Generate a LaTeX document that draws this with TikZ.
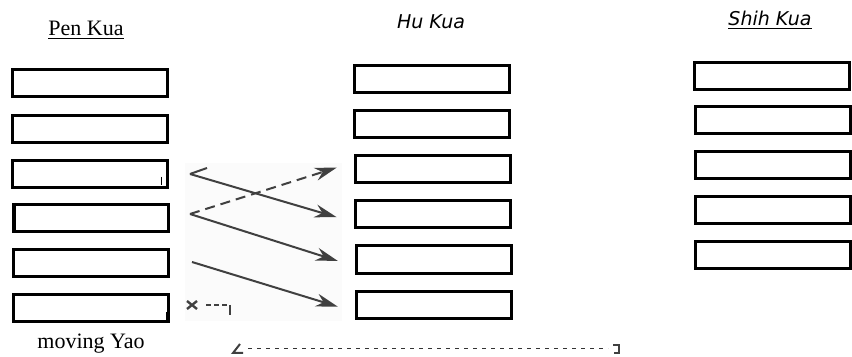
\documentclass[tikz,border=0pt]{standalone}
\usepackage{fontspec}
\setmainfont{Liberation Serif}
\newfontfamily\kuafont{DejaVu Sans}
\usetikzlibrary{arrows.meta}

\tikzset{
  yao/.style={draw, line width=1.5pt, minimum width=77.5pt, minimum height=13.6pt, inner sep=0pt},
  move/.style={line width=1pt, black!75, shorten >=9pt, -{Stealth[length=11pt,width=6.5pt]}},
  hook/.style={line width=1pt, black!75}
}

\begin{document}
\begin{tikzpicture}[x=0.5pt, y=-0.5pt]
        \useasboundingbox (0,0) rectangle (852,357);
        % --- nền xám vùng mũi tên ---
        \fill[gray!3] (185,163) rectangle (342,321);

        % --- tiêu đề ---
        \node[font=\fontsize{11}{13}\selectfont] (penT) at (86,30) {\underline{Pen Kua}};
        \node[font=\kuafont\itshape\fontsize{9.5}{11}\selectfont] (huT) at (431,22) {Hu Kua};
        \node[font=\kuafont\itshape\fontsize{9.5}{11}\selectfont] (shihT) at (770,20) {\underline{Shih Kua}};
        \node[font=\fontsize{11}{13}\selectfont] (movT) at (91,344) {moving Yao};

        % --- Pen Kua ---
        \node[yao] (pen1) at (89.5,83) {};
        \node[yao] (pen2) at (90,129) {};
        \node[yao] (pen3) at (90,174) {};
        \node[yao] (pen4) at (91,218) {};
        \node[yao] (pen5) at (91,263) {};
        \node[yao] (pen6) at (91,308) {};
        \draw[line width=2.4pt] ([xshift=1pt]pen4.north west) -- ([xshift=1pt]pen4.south west);
        \draw[thin] (161,177) -- (161,185);
        \draw[thin] (166,312) -- (166,320);

        % --- Hu Kua ---
        \node[yao] (hu1) at (432,79) {};
        \node[yao] (hu2) at (432,124) {};
        \node[yao] (hu3) at (433,169) {};
        \node[yao] (hu4) at (433,214) {};
        \node[yao] (hu5) at (434,259.5) {};
        \node[yao] (hu6) at (434,305) {};

        % --- Shih Kua ---
        \node[yao] (shih1) at (772,76) {};
        \node[yao] (shih2) at (772.5,120) {};
        \node[yao] (shih3) at (772.5,165) {};
        \node[yao] (shih4) at (772.5,210) {};
        \node[yao] (shih5) at (772.5,255) {};

        % --- các đường dịch chuyển hào ---
        \coordinate (v1) at (190,174);
        \coordinate (v1tip) at (207,168);
        \coordinate (v2) at (190,214);
        \coordinate (v3) at (192,262);
        \draw[hook] (v1tip) -- (v1);
        \draw[move] (v1) -- (hu4.186);
        \draw[move, dash pattern=on 5pt off 3pt] (v2) -- (hu3.175);
        \draw[move] (v2) -- (hu5.185);
        \draw[move] (v3) -- (hu6.185);

        % hào động bị loại
        \coordinate (xm) at (192,305);
        \coordinate (xend) at (230,305);
        \draw[hook, line width=1.2pt] ([shift={(-5,-4)}]xm) -- ([shift={(5,4)}]xm)
                    ([shift={(-5,4)}]xm) -- ([shift={(5,-4)}]xm);
        \draw[hook, dash pattern=on 2.5pt off 1.5pt] ([xshift=7]xm) -- (xend);
        \draw[hook] (xend) -- ++(0,10);

        % --- đường chấm phía dưới ---
        \coordinate (bl) at (248,349);
        \coordinate (br) at (608,349);
        \draw[black!80, line width=0.5pt, dash pattern=on 2pt off 2.5pt] (bl) -- (br);
        \draw[hook] (240,344) -- (233,353) -- (243,353);
        \draw[hook] (613,345) -- (619,345) -- (619,353) -- (614,353);
\end{tikzpicture}
\end{document}
